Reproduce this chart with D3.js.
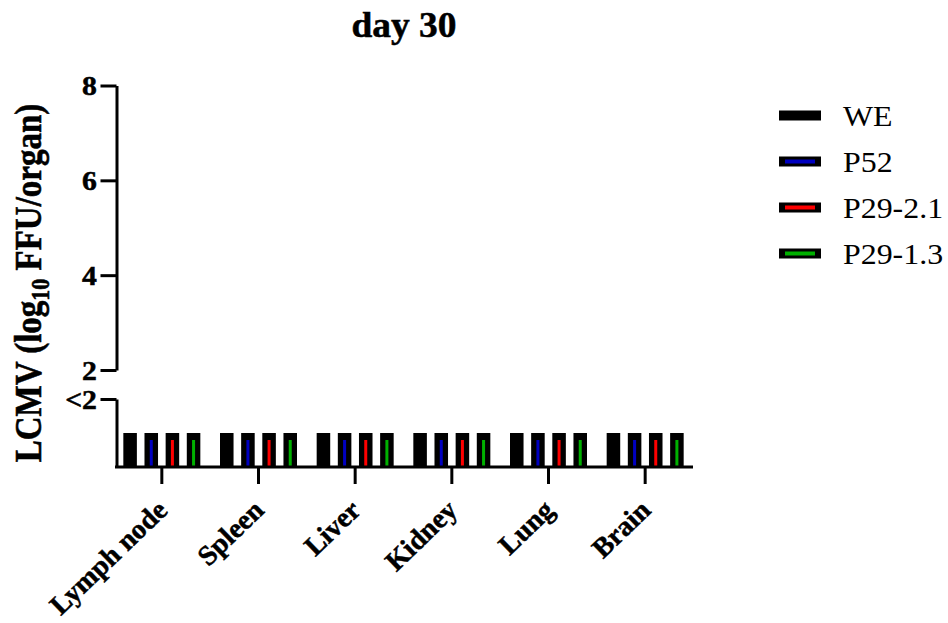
<!DOCTYPE html>
<html>
<head>
<meta charset="utf-8">
<script src="https://cdn.jsdelivr.net/npm/d3@7"></script>
<style>
  html, body { margin: 0; padding: 0; background: #fff; }
  svg { display: block; }
  .bold { stroke: #000; stroke-width: 0.5px; }
</style>
</head>
<body>
<svg id="chart" width="948" height="623"></svg>
<script>
const categories = ["Lymph node", "Spleen", "Liver", "Kidney", "Lung", "Brain"];
const seriesNames = ["WE", "P52", "P29-2.1", "P29-1.3"];
const seriesColors = ["#000000", "#0000c0", "#ff0000", "#00b000"];
const valuesWE     = [1, 1, 1, 1, 1, 1];
const valuesP52    = [1, 1, 1, 1, 1, 1];
const valuesP2921  = [1, 1, 1, 1, 1, 1];
const valuesP2913  = [1, 1, 1, 1, 1, 1];
const upperTicks = [2, 4, 6, 8];
const lowerTickLabel = "<2";

const seriesValues = [valuesWE, valuesP52, valuesP2921, valuesP2913];
const data = [];
categories.forEach((c, i) => {
  seriesNames.forEach((s, j) => data.push({cat: c, series: s, idx: j, value: seriesValues[j][i]}));
});

const svg = d3.select("#chart");
const serif = "'Liberation Serif', 'Times New Roman', serif";
const SX = 1.1; // horizontal stretch of the reference rendering

const axisX = 116.5;
const baseY = 467;

const x0 = d3.scaleBand().domain(categories).range([113.5, 693.5]).paddingInner(0).paddingOuter(0);
const x1 = d3.scaleBand().domain(seriesNames).range([-38.5, 38.5]).paddingInner(0.36).paddingOuter(0);
const yUp = d3.scaleLinear().domain([2, 8]).range([370, 85.5]);
const yLow = d3.scaleLinear().domain([0, 2]).range([baseY, 399]);

// Title
svg.append("text").attr("class", "bold").attr("transform", `translate(404,37) scale(1.04,1)`).attr("text-anchor", "middle")
  .attr("font-family", serif).attr("font-weight", "bold").attr("font-size", 36)
  .text("day 30");

// Y label
const yl = svg.append("text").attr("class", "bold").attr("transform", `translate(41,283) scale(${1.12},1) rotate(-90)`)
  .attr("text-anchor", "middle").attr("font-family", serif).attr("font-weight", "bold").attr("font-size", 33);
yl.append("tspan").text("LCMV (log");
yl.append("tspan").attr("font-size", 22).attr("dy", 7).text("10");
yl.append("tspan").attr("dy", -7).text(" FFU/organ)");

function styleAxis(g) {
  g.select(".domain").attr("stroke-width", 3);
  g.selectAll(".tick line").attr("stroke-width", 3);
  g.selectAll(".tick text").attr("class", "bold").attr("font-family", serif).attr("font-weight", "bold").attr("font-size", 27)
    .attr("dy", "0.34em").attr("transform", `scale(${SX},1)`);
}

// Upper y axis
const gUp = svg.append("g").attr("transform", `translate(${axisX},0)`)
  .call(d3.axisLeft(yUp).tickValues(upperTicks).tickFormat(d3.format("d")).tickSize(16).tickSizeOuter(0).tickPadding(1.8));
styleAxis(gUp);

// Lower y axis
const gLow = svg.append("g").attr("transform", `translate(${axisX},0)`)
  .call(d3.axisLeft(yLow).tickValues([2]).tickFormat(() => lowerTickLabel).tickSize(16).tickSizeOuter(0).tickPadding(1.8));
styleAxis(gLow);

// Bars
const groups = svg.append("g");
groups.selectAll("rect.outer").data(data).enter().append("rect").attr("class", "outer")
  .attr("x", d => x0(d.cat) + x0.bandwidth() / 2 + x1(d.series))
  .attr("width", x1.bandwidth())
  .attr("y", d => yLow(d.value))
  .attr("height", d => baseY - yLow(d.value))
  .attr("fill", "#000");
groups.selectAll("rect.inner").data(data.filter(d => d.idx > 0)).enter().append("rect").attr("class", "inner")
  .attr("x", d => x0(d.cat) + x0.bandwidth() / 2 + x1(d.series) + x1.bandwidth() / 2 - 1.5)
  .attr("width", 3)
  .attr("y", d => yLow(d.value) + 7)
  .attr("height", d => baseY - yLow(d.value) - 7)
  .attr("fill", d => seriesColors[d.idx]);

// X axis
const gx = svg.append("g").attr("transform", `translate(0,${baseY})`)
  .call(d3.axisBottom(x0).tickSize(17).tickSizeOuter(0).tickFormat(""));
gx.select(".domain").attr("d", `M${axisX - 1.5},0H693`).attr("stroke-width", 3);
gx.selectAll(".tick line").attr("stroke-width", 3);

svg.append("g").selectAll("text").data(categories).enter().append("text").attr("class", "bold")
  .attr("transform", d => `translate(${x0(d) + x0.bandwidth() / 2 + 7},512) rotate(-44)`)
  .attr("text-anchor", "end").attr("font-family", serif).attr("font-weight", "bold").attr("font-size", 28)
  .text(d => d);

// Legend
const leg = svg.append("g").selectAll("g").data(seriesNames).enter().append("g")
  .attr("transform", (d, i) => `translate(779,${115.5 + i * 46})`);
leg.append("rect").attr("x", 0).attr("y", -5).attr("width", 42).attr("height", 10).attr("fill", "#000");
leg.filter((d, i) => i > 0).append("rect").attr("x", 6).attr("y", -2).attr("width", 30).attr("height", 4)
  .attr("fill", (d, i) => seriesColors[i + 1]);
leg.append("text").attr("transform", `translate(64,0) scale(${SX},1)`).attr("dy", "0.35em")
  .attr("font-family", serif).attr("font-size", 29).text(d => d);
</script>
</body>
</html>
